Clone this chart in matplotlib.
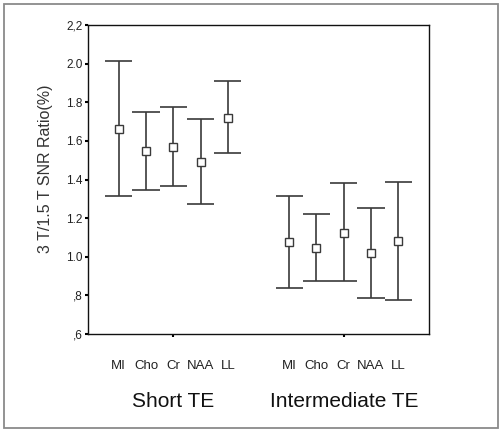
import numpy as np
import matplotlib
matplotlib.use("Agg")
import matplotlib.pyplot as plt
from matplotlib.patches import Rectangle
import matplotlib.transforms as mtransforms

plt.rcParams['font.family'] = ['Liberation Sans', 'DejaVu Sans']

groups = ["Short TE", "Intermediate TE"]
metabolites = ["MI", "Cho", "Cr", "NAA", "LL"]

short_mean = [1.663, 1.548, 1.570, 1.491, 1.720]
short_upper = [2.015, 1.748, 1.775, 1.712, 1.910]
short_lower = [1.313, 1.346, 1.368, 1.271, 1.536]

inter_mean = [1.075, 1.047, 1.123, 1.021, 1.081]
inter_upper = [1.314, 1.223, 1.380, 1.252, 1.387]
inter_lower = [0.840, 0.874, 0.874, 0.786, 0.776]

yticks = [0.6, 0.8, 1.0, 1.2, 1.4, 1.6, 1.8, 2.0, 2.2]
ytick_labels = [",6", ",8", "1.0", "1.2", "1.4", "1.6", "1.8", "2.0", "2,2"]

fig = plt.figure(figsize=(5.01, 4.32), dpi=100)
ax = fig.add_axes([88 / 501, 1 - 334 / 432, (429 - 88) / 501, (334 - 25) / 432])

line_col = "#3a3a3a"
offsets = (np.arange(len(metabolites)) - 2) * 0.16
cap = 0.08

blend = mtransforms.blended_transform_factory(ax.transData, ax.transAxes)

for gi, (means, ups, lows) in enumerate([(short_mean, short_upper, short_lower),
                                          (inter_mean, inter_upper, inter_lower)]):
    xs = gi + 0.5 + offsets
    ax.vlines(xs, lows, ups, color=line_col, lw=1.2)
    ax.hlines(ups, xs - cap, xs + cap, color=line_col, lw=1.2)
    ax.hlines(lows, xs - cap, xs + cap, color=line_col, lw=1.2)
    ax.plot(xs, means, 's', ms=5.5, mfc='white', mec=line_col, mew=1.0, zorder=3)
    for x, name in zip(xs, metabolites):
        ax.text(x, -0.1026, name, transform=blend, ha='center', va='center',
                fontsize=9.5, color='#222222')
    ax.text(gi + 0.5, -0.218, groups[gi], transform=blend, ha='center',
            va='center', fontsize=15, color='#111111')

ax.set_xlim(0, 2)
ax.set_ylim(0.6, 2.2)
ax.set_xticks([0.5, 1.5])
ax.set_xticklabels([])
ax.set_yticks(yticks)
ax.set_yticklabels(ytick_labels, fontsize=8.5, color='#222222')
ax.tick_params(axis='both', length=2, width=1.5, direction='out', pad=2)
for s in ax.spines.values():
    s.set_linewidth(1.0)
    s.set_color('#111111')

ax.set_ylabel("3 T/1.5 T SNR Ratio(%)", fontsize=11.5, color='#333333')
ax.yaxis.set_label_coords(-0.126, 0.534)
ax.yaxis.label.set_va('center')

fig.patches.append(Rectangle((4 / 501, 4 / 432), 494 / 501, 424 / 432,
                             transform=fig.transFigure, fill=False,
                             edgecolor='#8a8a8a', lw=1.3))

fig.savefig("out.png", dpi=100)
